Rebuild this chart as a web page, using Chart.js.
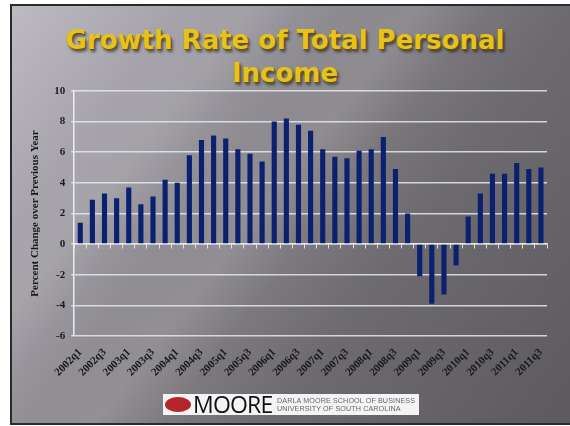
<!DOCTYPE html>
<html>
<head>
<meta charset="utf-8">
<script src="https://cdn.jsdelivr.net/npm/chart.js@4.4.1/dist/chart.umd.min.js"></script>
<style>
  html, body { margin: 0; padding: 0; background: #fff; width: 570px; height: 426px; overflow: hidden; }
  #slide {
    position: absolute; left: 10px; top: 4px; width: 562px; height: 421px;
    box-sizing: border-box; border: 2px solid #2a2a2c; border-right: none;
    background:
      linear-gradient(128deg, rgba(255,255,255,0) 38%, rgba(255,255,255,0.10) 46%, rgba(255,255,255,0) 54%),
      linear-gradient(128deg, rgba(255,255,255,0) 20%, rgba(255,255,255,0.08) 27%, rgba(255,255,255,0) 33%),
      linear-gradient(125deg, #bdbbc1 0%, #a3a1a7 22%, #858288 45%, #6d6a70 65%, #5d5a5f 100%);
    overflow: hidden;
  }
  #title {
    position: absolute; left: 0; top: 24px; width: 570px; text-align: center;
    font-family: "DejaVu Sans", sans-serif; font-weight: bold; font-size: 26px; line-height: 33px;
    color: #e8c21c; text-shadow: 1px 1px 0 #6b5400, 2px 3px 3px rgba(0,0,0,0.55);
  }
  #wrap { position: absolute; left: 0; top: 0; width: 570px; height: 426px; }
  #logo {
    position: absolute; left: 163px; top: 394px; width: 256px; height: 21px; background: #f4f4f4;
  }
  #logo .oval { position: absolute; left: 2px; top: 3px; width: 26px; height: 15px; border-radius: 50%; background: #b5262c; }
  #logo .name { position: absolute; left: 30px; top: -1px; font-family: "Open Sans", sans-serif; font-size: 23px; line-height: 23px; color: #111; letter-spacing: -0.8px; }
  #logo .sub { position: absolute; left: 114px; top: 3px; font-family: "Liberation Sans", sans-serif; font-size: 7.2px; line-height: 8px; color: #666; letter-spacing: 0.1px; }
</style>
</head>
<body>
<div id="slide"></div>
<div id="title">Growth Rate of Total Personal<br>Income</div>
<div id="wrap"><canvas id="growthChart"></canvas></div>
<div id="logo">
  <div class="oval"></div>
  <div class="name">MOORE</div>
  <div class="sub">DARLA MOORE SCHOOL OF BUSINESS<br>UNIVERSITY OF SOUTH CAROLINA</div>
</div>
<script>
// Quarterly growth of total personal income (percent change over previous year)
const quarters = [
  '2002q1', '2002q2', '2002q3', '2002q4',
  '2003q1', '2003q2', '2003q3', '2003q4',
  '2004q1', '2004q2', '2004q3', '2004q4',
  '2005q1', '2005q2', '2005q3', '2005q4',
  '2006q1', '2006q2', '2006q3', '2006q4',
  '2007q1', '2007q2', '2007q3', '2007q4',
  '2008q1', '2008q2', '2008q3', '2008q4',
  '2009q1', '2009q2', '2009q3', '2009q4',
  '2010q1', '2010q2', '2010q3', '2010q4',
  '2011q1', '2011q2', '2011q3'
];
const growth = [
  1.4, 2.9, 3.3, 3.0,
  3.7, 2.6, 3.1, 4.2,
  4.0, 5.8, 6.8, 7.1,
  6.9, 6.2, 5.9, 5.4,
  8.0, 8.2, 7.8, 7.4,
  6.2, 5.7, 5.6, 6.1,
  6.2, 7.0, 4.9, 2.0,
  -2.1, -3.9, -3.3, -1.4,
  1.8, 3.3, 4.6, 4.6,
  5.3, 4.9, 5.0
];
// only every other quarter is labelled
const shownLabels = quarters.filter((q, i) => i % 2 === 0);

const ctx = document.getElementById('growthChart').getContext('2d');
const growthChart = new Chart(ctx, {
  type: 'bar',
  data: {
    labels: quarters,
    datasets: [{
      label: 'Growth Rate',
      data: growth,
      backgroundColor: '#0b2170',
      barPercentage: 0.8,
      categoryPercentage: 0.53
    }]
  },
  options: {
    responsive: true,
    maintainAspectRatio: false,
    animation: false,
    layout: { padding: { left: 29, right: 23, top: 91, bottom: 45 } },
    plugins: {
      legend: { display: false },
      tooltip: { enabled: false }
    },
    scales: {
      x: {
        grid: { display: false },
        border: { display: false },
        ticks: {
          autoSkip: false,
          maxRotation: 45,
          minRotation: 45,
          padding: 2,
          color: '#1a1a1a',
          font: { family: 'Liberation Serif', size: 11, weight: 'bold' },
          callback: function (value, index) {
            const q = this.getLabelForValue(value);
            return shownLabels.includes(q) ? q : '';
          }
        }
      },
      xZero: {
        type: 'category',
        labels: quarters,
        position: { y: 0 },
        offset: true,
        grid: { drawOnChartArea: false, tickLength: 4, color: 'rgba(235,235,240,0.9)', offset: true },
        border: { color: 'rgba(235,235,240,0.9)', width: 1.5 },
        ticks: { display: false }
      },
      y: {
        min: -6,
        max: 10,
        ticks: {
          stepSize: 2,
          padding: 6,
          color: '#1a1a1a',
          font: { family: 'Liberation Serif', size: 11, weight: 'bold' }
        },
        grid: { color: 'rgba(232,232,238,0.85)', lineWidth: 1.5, tickLength: 3 },
        border: { color: 'rgba(240,240,245,0.95)', width: 1.5 },
        title: {
          display: true,
          text: 'Percent Change over Previous Year',
          color: '#1a1a1a',
          padding: { top: 0, bottom: 6 },
          font: { family: 'Liberation Serif', size: 11, weight: 'bold' }
        }
      }
    }
  }
});
</script>
</body>
</html>
